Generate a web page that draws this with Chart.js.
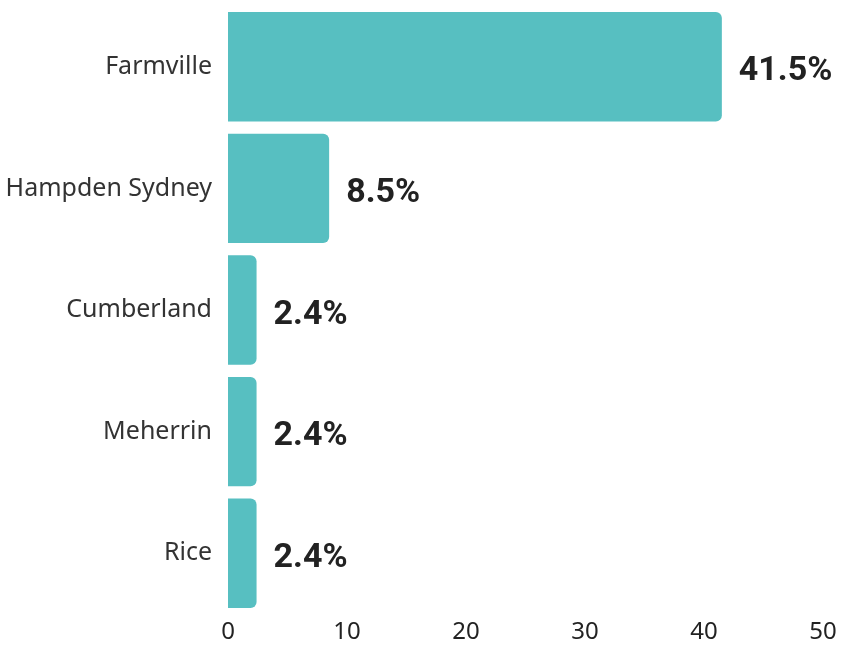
<!DOCTYPE html>
<html>
<head>
<meta charset="utf-8">
<script src="https://cdn.jsdelivr.net/npm/chart.js@4.4.0/dist/chart.umd.min.js"></script>
<style>
  html, body { margin: 0; padding: 0; background: #fff; }
  #wrap { width: 841px; height: 645px; }
</style>
</head>
<body>
<div id="wrap"><canvas id="townChart"></canvas></div>
<script>
// Daten
const towns = ['Farmville', 'Hampden Sydney', 'Cumberland', 'Meherrin', 'Rice'];
const shares = [41.5, 8.5, 2.4, 2.4, 2.4];
const xTicks = [0, 10, 20, 30, 40, 50];

// Prozentwerte rechts neben die Balken schreiben
const valueLabels = {
    id: 'valueLabels',
    afterDatasetsDraw(chart) {
        const ctx = chart.ctx;
        const meta = chart.getDatasetMeta(0);
        ctx.save();
        ctx.font = 'bold 34px Roboto';
        ctx.fillStyle = '#222';
        ctx.textAlign = 'left';
        ctx.textBaseline = 'middle';
        meta.data.forEach((bar, i) => {
            ctx.fillText(shares[i].toFixed(1) + '%', bar.x + 17, bar.y + 5);
        });
        ctx.restore();
    }
};

const config = {
    type: 'bar',
    data: {
        labels: towns,
        datasets: [{
            data: shares,
            backgroundColor: '#57bfc1',
            borderRadius: 6,
            borderSkipped: 'start',
            categoryPercentage: 1,
            barPercentage: 0.9
        }]
    },
    options: {
        indexAxis: 'y',
        responsive: true,
        maintainAspectRatio: false,
        animation: false,
        layout: { padding: { top: 6, right: 18, bottom: 0, left: 6 } },
        plugins: {
            legend: { display: false },
            tooltip: { enabled: false }
        },
        scales: {
            x: {
                min: 0,
                max: 50,
                afterBuildTicks: axis => { axis.ticks = xTicks.map(v => ({ value: v })); },
                afterFit: scale => { scale.height = 31; },
                grid: { display: false, drawTicks: false },
                border: { display: false },
                ticks: {
                    color: '#222',
                    font: { family: 'Noto Sans', size: 24 },
                    padding: 4
                }
            },
            y: {
                afterFit: scale => {
                    scale.width = 222;
                    scale.paddingTop = 0;
                    scale.paddingBottom = 0;
                },
                grid: { display: false, drawTicks: false },
                border: { display: false },
                ticks: {
                    color: '#333',
                    font: { family: 'Noto Sans', size: 25 },
                    padding: 16
                }
            }
        }
    },
    plugins: [valueLabels]
};

const townChart = new Chart(document.getElementById('townChart').getContext('2d'), config);
</script>
</body>
</html>
